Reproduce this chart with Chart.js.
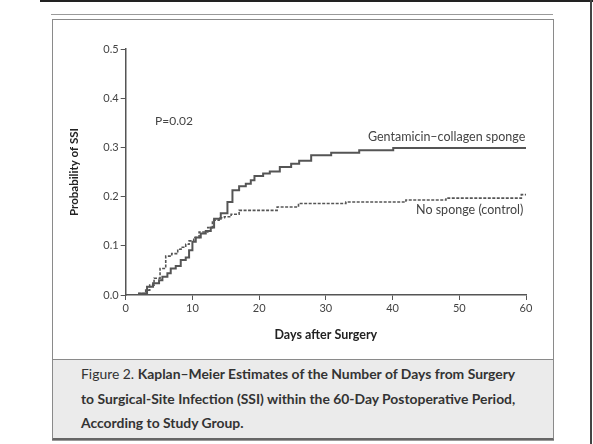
<!DOCTYPE html>
<html>
<head>
<meta charset="utf-8">
<script src="https://cdn.jsdelivr.net/npm/chart.js@4/dist/chart.umd.min.js"></script>
<style>
  html, body { margin: 0; padding: 0; background: #fff; }
  body { width: 593px; height: 444px; position: relative; overflow: hidden; font-family: Lato, "Open Sans", sans-serif; }
  #topRule { position: absolute; left: 40px; top: 0; width: 553px; height: 2px; background: #222; }
  #rightRule { position: absolute; left: 590px; top: 0; width: 2px; height: 444px; background: #444; }
  #upperRule { position: absolute; left: 51px; top: 14px; width: 502px; height: 1px; background: #9a9a9a; }
  #frame { position: absolute; left: 52px; top: 19px; width: 500px; height: 418px; border: 1px solid #8a8a8a; border-bottom: 2px solid #666; }
  #baseRule { position: absolute; left: 52px; top: 440px; width: 502px; height: 1px; background: #999; }
  #caption { position: absolute; left: 53px; top: 359px; width: 472px; height: 72px; padding: 2px 0 4px 28px;
             background: #ebebeb; border-top: 1px solid #8a8a8a;
             font-size: 13.9px; line-height: 24.5px; color: #333; white-space: nowrap; }
  #caption b { font-weight: bold; }
  #chart { position: absolute; left: 0; top: 0; }
</style>
</head>
<body>
<div id="topRule"></div>
<div id="rightRule"></div>
<div id="upperRule"></div>
<div id="frame"></div>
<div id="baseRule"></div>
<div id="caption">Figure 2. <b>Kaplan–Meier Estimates of the Number of Days from Surgery</b><br><b>to Surgical-Site Infection (SSI) within the 60-Day Postoperative Period,</b><br><b>According to Study Group.</b></div>
<canvas id="chart" width="593" height="444"></canvas>
<script>
// Kaplan–Meier cumulative incidence of SSI, step points (day, probability)
const spongeDays = [0, 2.0, 3.2, 4.1, 5.0, 5.5, 6.25, 6.75, 7.5, 8.25, 9.0, 9.5, 10.0, 10.5, 11.25, 12.0, 12.75, 13.25, 14.25, 15.25, 16.0, 17.0, 18.0, 18.75, 19.3, 20.6, 21.6, 23.1, 24.8, 26.0, 27.8, 30.8, 35.0, 40.1, 60];
const spongeProb = [0, 0.003, 0.017, 0.024, 0.030, 0.037, 0.044, 0.054, 0.059, 0.071, 0.076, 0.091, 0.108, 0.117, 0.125, 0.130, 0.137, 0.155, 0.166, 0.189, 0.213, 0.221, 0.226, 0.233, 0.242, 0.247, 0.251, 0.260, 0.267, 0.273, 0.284, 0.289, 0.294, 0.299, 0.299];

const controlDays = [0, 2.0, 3.0, 3.6, 4.25, 5.15, 6.0, 6.9, 7.8, 8.3, 9.0, 9.5, 10.2, 11.0, 12.3, 13.0, 14.0, 14.8, 15.8, 17.0, 22.7, 25.9, 33.0, 42.0, 48.0, 59.3, 60];
const controlProb = [0, 0.003, 0.010, 0.020, 0.034, 0.054, 0.079, 0.084, 0.093, 0.097, 0.103, 0.110, 0.117, 0.128, 0.137, 0.152, 0.157, 0.159, 0.164, 0.172, 0.179, 0.186, 0.189, 0.193, 0.197, 0.204, 0.204];

const xTicks = [0, 10, 20, 30, 40, 50, 60];
const yTicks = [0.0, 0.1, 0.2, 0.3, 0.4, 0.5];

const seriesNames = ['Gentamicin–collagen sponge', 'No sponge (control)'];
const pLabel = 'P=0.02';

const toPoints = (xs, ys) => xs.map((x, i) => ({ x: x, y: ys[i] }));

Chart.defaults.font.family = 'Lato, "Open Sans", sans-serif';
Chart.defaults.color = '#444';

// text placed next to the curves, anchored in data units
const curveLabels = {
  id: 'curveLabels',
  afterDatasetsDraw(chart) {
    const { ctx, scales: { x, y } } = chart;
    ctx.save();
    ctx.fillStyle = '#444';
    ctx.textBaseline = 'middle';
    ctx.font = '12px Lato, "Open Sans", sans-serif';
    ctx.textAlign = 'left';
    ctx.fillText(pLabel, x.getPixelForValue(4.4), y.getPixelForValue(0.353));
    ctx.font = '12.5px Lato, "Open Sans", sans-serif';
    ctx.textAlign = 'right';
    ctx.fillText(seriesNames[0], x.getPixelForValue(59.9), y.getPixelForValue(0.321));
    ctx.fillText(seriesNames[1], x.getPixelForValue(59.6), y.getPixelForValue(0.172));
    ctx.restore();
  }
};

new Chart(document.getElementById('chart'), {
  type: 'line',
  data: {
    datasets: [
      {
        label: seriesNames[0],
        data: toPoints(spongeDays, spongeProb),
        stepped: 'before',
        borderColor: '#555',
        borderWidth: 2,
        pointRadius: 0,
        fill: false
      },
      {
        label: seriesNames[1],
        data: toPoints(controlDays, controlProb),
        stepped: 'before',
        borderColor: '#555',
        borderWidth: 1.6,
        borderDash: [3, 1.5],
        pointRadius: 0,
        fill: false
      }
    ]
  },
  options: {
    responsive: false,
    animation: false,
    events: [],
    layout: { padding: { left: 62, right: 67, top: 49, bottom: 99 } },
    plugins: { legend: { display: false }, tooltip: { enabled: false } },
    scales: {
      x: {
        type: 'linear',
        min: 0, max: 60,
        afterFit(s) { s.height = 50; },
        afterBuildTicks(s) { s.ticks = xTicks.map(v => ({ value: v })); },
        border: { display: true, color: '#555', width: 1.5 },
        grid: { drawOnChartArea: false, color: '#555', lineWidth: 1, tickLength: 5 },
        ticks: { color: '#444', font: { size: 11 }, padding: 2, maxRotation: 0 },
        title: { display: true, text: 'Days after Surgery', color: '#222',
                 font: { size: 12.5, weight: 'bold' }, padding: { top: 0, bottom: 3 } }
      },
      y: {
        type: 'linear',
        min: 0, max: 0.5,
        afterFit(s) { s.width = 63.7; },
        afterBuildTicks(s) { s.ticks = yTicks.map(v => ({ value: v })); },
        border: { display: true, color: '#555', width: 1.5 },
        grid: { drawOnChartArea: false, color: '#555', lineWidth: 1, tickLength: 5 },
        ticks: { color: '#444', font: { size: 11 }, padding: 2, callback: v => v.toFixed(1) },
        title: { display: true, text: 'Probability of SSI', color: '#222',
                 font: { size: 11.5, weight: 'bold' }, padding: { top: 5, bottom: 0 } }
      }
    }
  },
  plugins: [curveLabels]
});
</script>
</body>
</html>
